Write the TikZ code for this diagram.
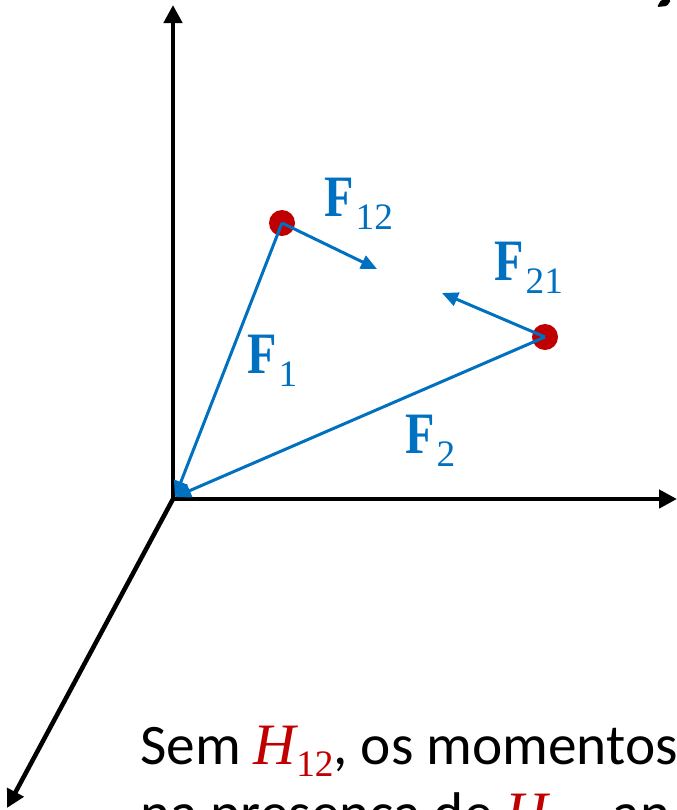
\documentclass[tikz,border=0pt]{standalone}
\usepackage{fontspec}
\setmainfont{Liberation Serif}
\newfontfamily\calibrifont{Carlito}
\usetikzlibrary{arrows.meta,positioning}
\definecolor{forceblue}{HTML}{0070C0}
\definecolor{massred}{HTML}{C00000}
\newcommand{\forcelabel}[1]{\scalebox{0.82}[1]{\fontsize{44}{44}\selectfont\bfseries F}\kern1.5pt\raisebox{-10pt}{\fontsize{28}{28}\selectfont #1}}
\newcommand{\hlabel}{{\rmfamily\color{massred}\fontsize{44}{44}\selectfont\itshape H\kern0pt\raisebox{-9pt}{\fontsize{28}{28}\selectfont\upshape 12}}}

\begin{document}
\begin{tikzpicture}[x=0.75pt,y=-0.75pt,
axis/.style={-{Triangle[length=13.5pt,width=13.5pt]},line width=3.4pt,black},
force/.style={-{Triangle[length=12pt,width=10.5pt]},line width=2.25pt,forceblue},
mass/.style={circle,fill=massred,inner sep=0pt,minimum size=19.5pt},
flab/.style={anchor=base west,inner sep=0pt,text=forceblue},
txt/.style={anchor=base west,inner sep=0pt,font=\calibrifont\fontsize{43}{50}\selectfont}]
\useasboundingbox (0,0) rectangle (677,810);
\begin{scope}
\clip (0,0) rectangle (677,810);
\coordinate (O) at (173,499);
\coordinate (ytip) at (173,5);
\coordinate (xtip) at (677,499);
\coordinate (ztip) at (7,808);
\draw[axis] (O)--(ytip);
\draw[axis] (O)--(xtip);
\draw[axis] (O)--(ztip);
\node[mass] (p1) at (282,223) {};
\node[mass] (p2) at (545,337) {};
\coordinate (f12tip) at (377,269);
\coordinate (f21tip) at (442,293);
\coordinate (Otip) at (175,497);
\draw[force] (p1.center)--(f12tip);
\draw[force] (p2.center)--(f21tip);
\draw[force] (p1.center)--(Otip);
\draw[force] (p2.center)--(Otip);
\node[flab] (lf12) at (324,216) {\forcelabel{12}};
\node[flab] (lf21) at (494,280) {\forcelabel{21}};
\node[flab] (lf1) at (247,373) {\forcelabel{1}};
\node[flab] (lf2) at (405,453) {\forcelabel{2}};
\node[txt] (line1) at (140,764) {Sem \hlabel, os momentos};
\node[txt] (line2) at (140,832) {na presença de \hlabel, an};
\fill[rounded corners=1pt] (657,7)--(661,0)--(671,0)--(667,6)--cycle;
\end{scope}
\end{tikzpicture}
\end{document}
